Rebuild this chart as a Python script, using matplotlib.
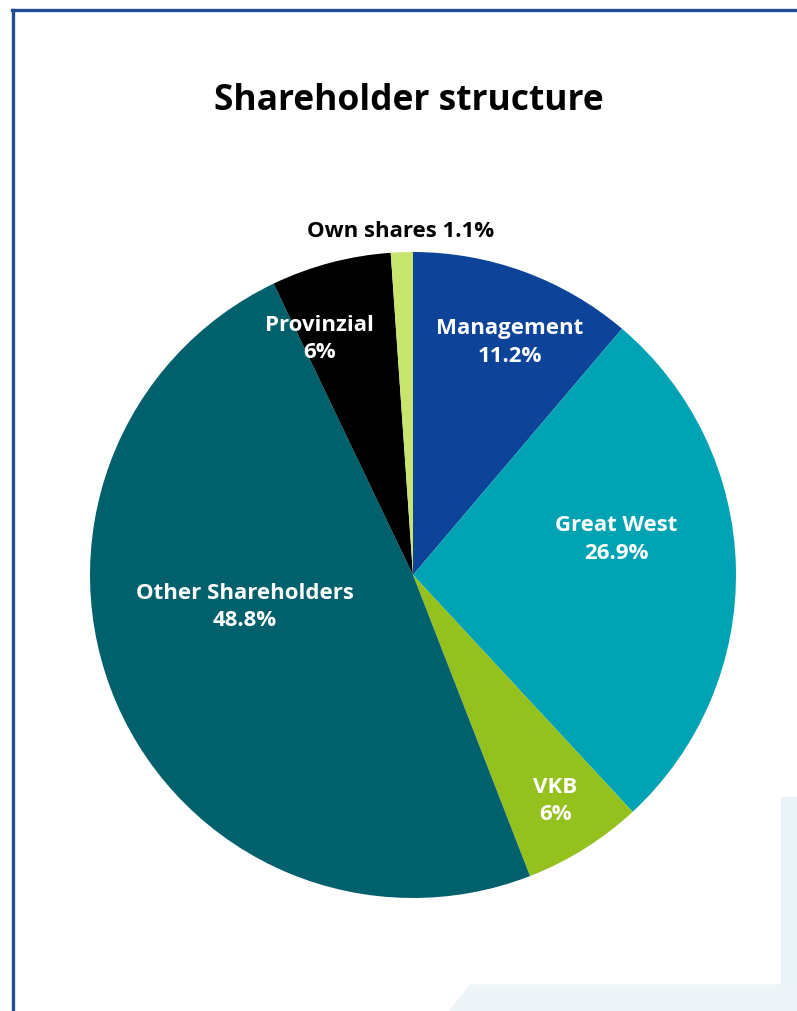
import matplotlib.pyplot as plt
from matplotlib.patches import Polygon, Rectangle
from matplotlib.lines import Line2D

holders = ["Management", "Great West", "VKB", "Other Shareholders", "Provinzial", "Own shares"]
shares = [11.2, 26.9, 6, 48.8, 6, 1.1]
share_text = ["11.2%", "26.9%", "6%", "48.8%", "6%", "1.1%"]
colors = ["#0D4499", "#00A3B4", "#95C11F", "#00606B", "#000000", "#C8E66E"]

# label centres, in units of the pie radius
label_xy = [(0.30, 0.72), (0.63, 0.11), (0.44, -0.70), (-0.52, -0.10), (-0.29, 0.73), (-0.04, 1.065)]

fig = plt.figure(figsize=(7.97, 10.11), dpi=100)

# light decorative shapes at the bottom right
fig.patches.append(Rectangle((781 / 797, 26 / 1011), 16 / 797, 188 / 1011,
                             transform=fig.transFigure, color="#EAF4F7", zorder=0))
fig.patches.append(Polygon([(450 / 797, 0), (470 / 797, 26 / 1011), (1, 26 / 1011), (1, 0)],
                           closed=True, transform=fig.transFigure, color="#EEF5F8", zorder=0))

# blue frame (left and top)
fig.add_artist(Line2D([13 / 797, 13 / 797], [0, 1 - 10 / 1011], transform=fig.transFigure,
                      color="#1F4E96", lw=2.4))
fig.add_artist(Line2D([12 / 797, 1], [1 - 10 / 1011, 1 - 10 / 1011], transform=fig.transFigure,
                      color="#1F4E96", lw=2.4))

fig.text(409 / 797, 1 - 101 / 1011, "Shareholder structure", ha="center", va="center",
         fontsize=25.5, fontweight="bold", family="Open Sans")

ax = fig.add_axes([90 / 797, 113 / 1011, 646 / 797, 646 / 1011])
ax.pie(shares, colors=colors, startangle=90, counterclock=False, radius=1,
       wedgeprops={"linewidth": 0})
ax.set_xlim(-1, 1)
ax.set_ylim(-1, 1)
ax.set_aspect("equal")
ax.axis("off")

for name, pct, (x, y) in zip(holders, share_text, label_xy):
    if name == "Own shares":
        ax.text(x, y, f"{name} {pct}", ha="center", va="center", fontsize=16,
                fontweight="bold", color="black", family="Open Sans")
    else:
        ax.text(x, y, f"{name}\n{pct}", ha="center", va="center", fontsize=16,
                fontweight="bold", color="white", family="Open Sans", linespacing=1.4)

fig.savefig("out.png", dpi=100)
